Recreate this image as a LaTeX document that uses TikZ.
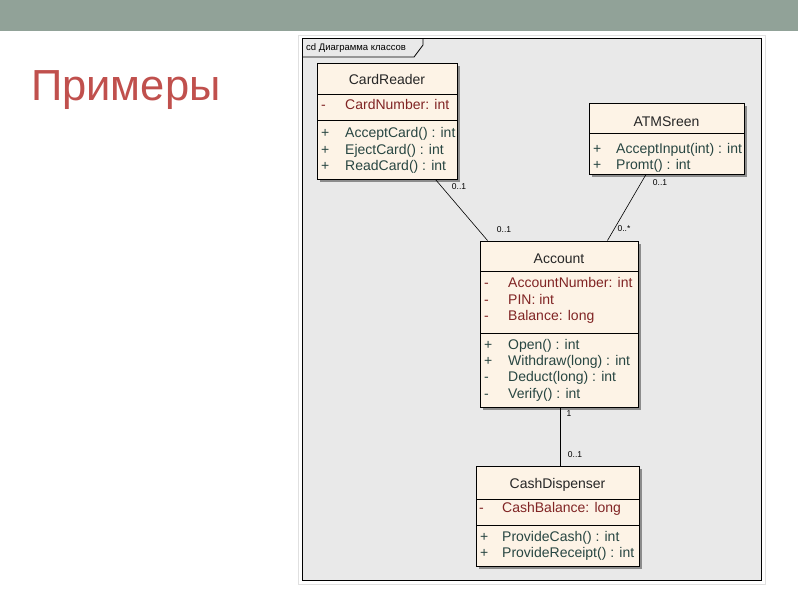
\documentclass[tikz,border=0pt]{standalone}
\usepackage{fontspec}
\setmainfont{Liberation Sans}
\usetikzlibrary{shadows}
\definecolor{barcol}{RGB}{145,162,152}
\definecolor{titlecol}{RGB}{192,80,77}
\definecolor{framebg}{RGB}{233,233,233}
\definecolor{classbg}{RGB}{253,243,230}
\definecolor{attrcol}{RGB}{128,36,36}
\definecolor{opcol}{RGB}{40,70,66}
\tikzset{
  classbox/.style={draw, fill=classbg, inner sep=0, line width=0.9pt,
    drop shadow={shadow xshift=3pt, shadow yshift=-3pt, fill=black!45, opacity=1}},
  cname/.style={inner sep=0, text height=10pt, text depth=0pt, font=\fontsize{14}{16}\selectfont, text=black!85},
  attr/.style={anchor=west, inner sep=0, text height=10pt, text depth=0pt, font=\fontsize{14}{16}\selectfont, text=attrcol},
  oper/.style={anchor=west, inner sep=0, text height=10pt, text depth=0pt, font=\fontsize{14}{16}\selectfont, text=opcol},
  mult/.style={inner sep=0, font=\fontsize{8.5}{10}\selectfont},
  assoc/.style={line width=0.6pt}
}
\begin{document}
\begin{tikzpicture}[x=1pt, y=-1pt]
  \useasboundingbox (0,0) rectangle (800,600);
  \fill[barcol] (0,0) rectangle (798,31);
  \node[anchor=base west, inner sep=0, text=titlecol, font=\fontsize{43.5}{50}\selectfont] (title) at (31,100) {Примеры};

  \draw[black!12] (298,35) rectangle (765,584);
  \fill[framebg] (302,38) rectangle (761,580);
  \draw[line width=1pt] (302,38) rectangle (761,580);
  \draw[line width=0.8pt] (302,57) -- (414,57) -- (423,45) -- (423,38);
  \node[anchor=west, inner sep=0, font=\fontsize{9.5}{11}\selectfont] (frametab) at (306,48) {cd Диаграмма классов};

  \node[classbox, minimum width=140pt, minimum height=116pt] (cardreader) at (387,121) {};
  \draw[line width=0.9pt] (317,94) -- (457,94);
  \draw[line width=0.9pt] (317,120) -- (457,120);
  \node[cname] (cr-name) at (387,79) {CardReader};
  \node[attr] (cr-v1) at (321,104) {-};
  \node[attr] (cr-a1) at (345,104) {CardNumber: int};
  \node[oper] (cr-v2) at (321,132) {+};
  \node[oper] (cr-o1) at (345,132) {AcceptCard() : int};
  \node[oper] (cr-v3) at (321,149) {+};
  \node[oper] (cr-o2) at (345,149) {EjectCard() : int};
  \node[oper] (cr-v4) at (321,165) {+};
  \node[oper] (cr-o3) at (345,165) {ReadCard() : int};

  \node[classbox, minimum width=155pt, minimum height=71pt] (atm) at (666.5,138.5) {};
  \draw[line width=0.9pt] (589,133) -- (744,133);
  \node[cname] (atm-name) at (666.5,121) {ATMSreen};
  \node[oper] (atm-v1) at (593,148) {+};
  \node[oper] (atm-o1) at (616,148) {AcceptInput(int) : int};
  \node[oper] (atm-v2) at (593,164) {+};
  \node[oper] (atm-o2) at (616,164) {Promt() : int};

  \node[classbox, minimum width=158pt, minimum height=166pt] (account) at (559,324) {};
  \draw[line width=0.9pt] (480,271) -- (638,271);
  \draw[line width=0.9pt] (480,333) -- (638,333);
  \node[cname] (acc-name) at (559,258) {Account};
  \node[attr] (acc-v1) at (484,282) {-};
  \node[attr] (acc-a1) at (508,282) {AccountNumber: int};
  \node[attr] (acc-v2) at (484,299) {-};
  \node[attr] (acc-a2) at (508,299) {PIN: int};
  \node[attr] (acc-v3) at (484,315) {-};
  \node[attr] (acc-a3) at (508,315) {Balance: long};
  \node[oper] (acc-v4) at (484,344) {+};
  \node[oper] (acc-o1) at (508,344) {Open() : int};
  \node[oper] (acc-v5) at (484,360) {+};
  \node[oper] (acc-o2) at (508,360) {Withdraw(long) : int};
  \node[oper] (acc-v6) at (484,376) {-};
  \node[oper] (acc-o3) at (508,376) {Deduct(long) : int};
  \node[oper] (acc-v7) at (484,393) {-};
  \node[oper] (acc-o4) at (508,393) {Verify() : int};

  \node[classbox, minimum width=163pt, minimum height=100pt] (cash) at (557.5,516) {};
  \draw[line width=0.9pt] (476,499) -- (639,499);
  \draw[line width=0.9pt] (476,525) -- (639,525);
  \node[cname] (cash-name) at (557.5,483) {CashDispenser};
  \node[attr] (cash-v1) at (479,507) {-};
  \node[attr] (cash-a1) at (502,507) {CashBalance: long};
  \node[oper] (cash-v2) at (480,536) {+};
  \node[oper] (cash-o1) at (502,536) {ProvideCash() : int};
  \node[oper] (cash-v3) at (480,552) {+};
  \node[oper] (cash-o2) at (502,552) {ProvideReceipt() : int};

  \draw[assoc] ([xshift=-22pt]cardreader.south east) -- ([xshift=8pt]account.north west);
  \draw[assoc] ([xshift=-20.5pt]atm.south) -- ([xshift=-31pt]account.north east);
  \draw[assoc] ([xshift=1pt]account.south) -- ([xshift=1pt]account.south |- cash.north);
  \node[mult] (m1) at (459,187) {0..1};
  \node[mult] (m2) at (504,230) {0..1};
  \node[mult] (m3) at (660,183) {0..1};
  \node[mult] (m4) at (624,229) {0..*};
  \node[mult] (m5) at (569,414) {1};
  \node[mult] (m6) at (575,455) {0..1};
\end{tikzpicture}
\end{document}
